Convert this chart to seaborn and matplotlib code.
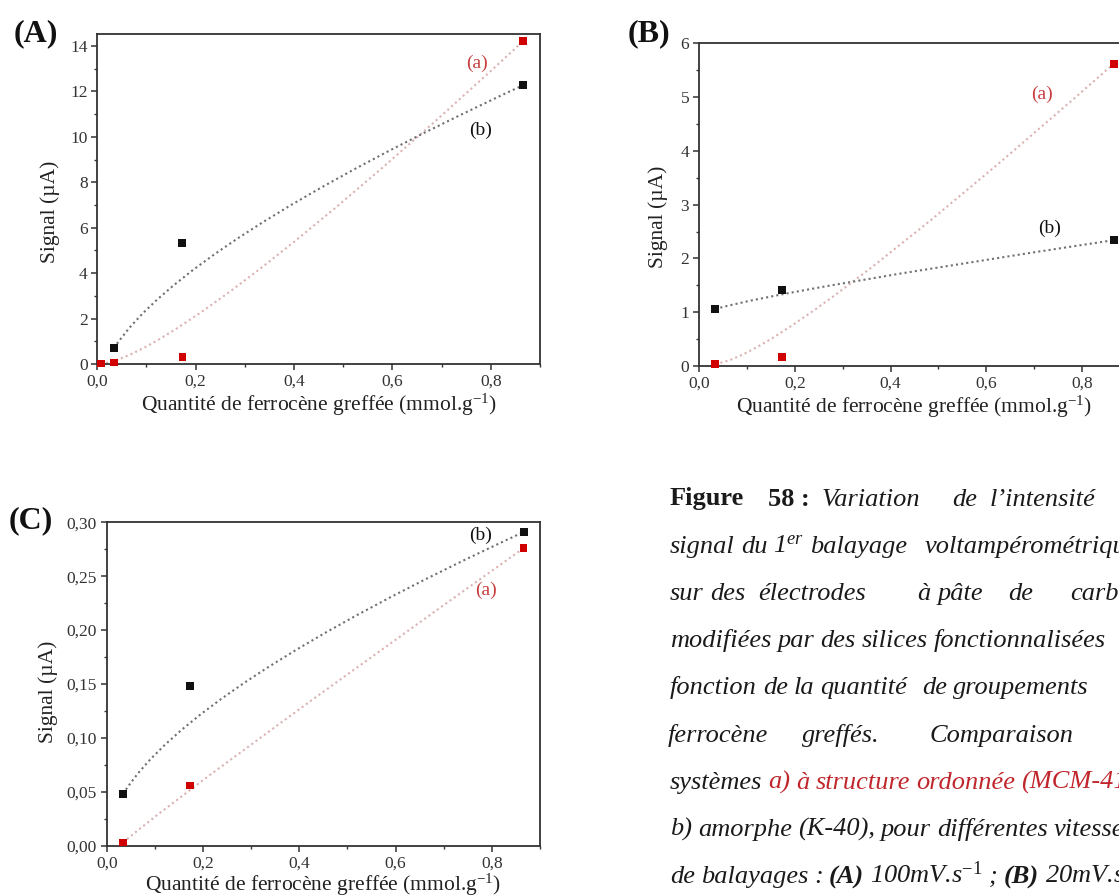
import numpy as np
import seaborn as sns
import matplotlib.pyplot as plt
from matplotlib.path import Path
from matplotlib.patches import PathPatch
from matplotlib.ticker import MultipleLocator, FuncFormatter

# grafted ferrocene (mmol/g) and signal (uA)
x_common = [0.034, 0.173, 0.866]
x_a_A = [0.007, 0.034, 0.173, 0.866]
y_a_A = [0.03, 0.06, 0.32, 14.22]
y_b_A = [0.70, 5.31, 12.28]

y_a_B = [0.04, 0.17, 5.62]
y_b_B = [1.06, 1.41, 2.34]

y_a_C = [0.003, 0.056, 0.276]
y_b_C = [0.048, 0.148, 0.291]

RED = "#d10000"
BLACK = "#111111"
W, H = 1119, 896

sns.set_style("ticks")
plt.rcParams["font.family"] = ["Liberation Serif", "DejaVu Serif"]
plt.rcParams["mathtext.fontset"] = "custom"
plt.rcParams["mathtext.rm"] = "Liberation Serif"
plt.rcParams["mathtext.it"] = "Liberation Serif:italic"
plt.rcParams["mathtext.bf"] = "Liberation Serif:bold"

fig = plt.figure(figsize=(W / 100, H / 100), dpi=100)


def px_box(l, t, r, b):
    return [l / W, 1 - b / H, (r - l) / W, (b - t) / H]


def bspline(ax, xs, ys, color):
    # Origin "B-spline" connection: data points act as bezier control points
    verts = np.column_stack([xs, ys])
    step = Path.CURVE3 if len(xs) == 3 else Path.CURVE4
    codes = [Path.MOVETO] + [step] * (len(xs) - 1)
    ax.add_patch(PathPatch(Path(verts, codes), fill=False, edgecolor=color,
                           lw=1.5, ls=(0, (1, 1.5)), zorder=2))


def panel(box, ylim, ymaj, ymin, yfmt, xa, ya, xb, yb, lab_a, lab_b, ylab_pos, xlab_off):
    ax = fig.add_axes(box)
    bspline(ax, xa, ya, "#dbb2b2")
    bspline(ax, xb, yb, "#707070")
    sns.scatterplot(x=xa, y=ya, marker="s", s=30, color=RED, edgecolor="none",
                    ax=ax, clip_on=False, zorder=3)
    sns.scatterplot(x=xb, y=yb, marker="s", s=32, color=BLACK, edgecolor="none",
                    ax=ax, clip_on=False, zorder=3)
    ax.set_xlim(0, 0.9)
    ax.set_ylim(*ylim)
    ax.xaxis.set_major_locator(MultipleLocator(0.2))
    ax.xaxis.set_minor_locator(MultipleLocator(0.1))
    ax.yaxis.set_major_locator(MultipleLocator(ymaj))
    ax.yaxis.set_minor_locator(MultipleLocator(ymin))
    ax.xaxis.set_major_formatter(FuncFormatter(lambda v, p: f"{v:.1f}".replace(".", ",")))
    ax.yaxis.set_major_formatter(FuncFormatter(lambda v, p: yfmt.format(v).replace(".", ",")))
    ax.tick_params(which="major", direction="out", length=4, width=1.1,
                   labelsize=12.5, colors="#333333", pad=3)
    ax.tick_params(which="minor", direction="out", length=2.5, width=1, colors="#333333")
    for sp in ax.spines.values():
        sp.set_linewidth(1.3)
        sp.set_color("#333333")
    ax.set_xlabel("Quantité de ferrocène greffée (mmol.g$^{-1}$)", fontsize=15.5, color="#222222")
    ax.set_ylabel("Signal (µA)", fontsize=15.5, color="#222222")
    ax.xaxis.label.set_va("center")
    ax.yaxis.label.set_va("center")
    ax.xaxis.set_label_coords(0.5, xlab_off)
    ax.yaxis.set_label_coords(*ylab_pos)
    ax.text(*lab_a, "(a)", color="#c84040", fontsize=14, ha="center", va="center")
    ax.text(*lab_b, "(b)", color=BLACK, fontsize=14, ha="center", va="center")
    return ax


panel(px_box(97.3, 34, 540, 364), (0, 14.53), 2, 1, "{:.0f}",
      x_a_A, y_a_A, x_common, y_b_A, (0.772, 13.24), (0.780, 10.27), (-0.106, 0.46), -0.124)
panel(px_box(699, 43.3, 1130, 366), (0, 6), 1, 0.5, "{:.0f}",
      x_common, y_a_B, x_common, y_b_B, (0.717, 5.06), (0.733, 2.56), (-0.095, 0.463), -0.126)
panel(px_box(106.7, 522.3, 540, 845.7), (0, 0.30), 0.05, 0.025, "{:.2f}",
      x_common, y_a_C, x_common, y_b_C, (0.788, 0.237), (0.777, 0.288), (-0.135, 0.476), -0.1215)

for px, base, s in [(14, 41, "(A)"), (628, 41.7, "(B)"), (9, 528, "(C)")]:
    fig.text(px / W, 1 - base / H, s, fontsize=23, weight="bold", va="baseline", color="#111111")

# justified caption: words go near where they sit in the scan, never overlapping
rows = [505.5, 552.7, 599.9, 647.1, 694.3, 741.5, 788.7, 835.9, 883.1]
CAP_RED = "#c0272d"
IT = dict(style="italic")
BF = dict(style="normal", weight="bold")
RD = dict(style="italic", color=CAP_RED)
BI = dict(style="italic", weight="bold")

caption = [
    [(670, "Figure", BF), (768, "58 :", BF), (822, "Variation", IT), (952, "de", IT),
     (990, "l’intensité", IT)],
    [(670, "signal", IT), (737, "du", IT), (762, "1$^{er}$", IT), (790, "balayage", IT),
     (925, "voltampérométrique", IT)],
    [(670, "sur", IT), (705, "des", IT), (758, "électrodes", IT), (917, "à", IT),
     (938, "pâte", IT), (1008, "de", IT), (1070, "carbone", IT)],
    [(670, "modifiées", IT), (0, "par", IT), (0, "des", IT), (0, "silices", IT),
     (0, "fonctionnalisées", IT)],
    [(670, "fonction", IT), (750, "de", IT), (782, "la", IT), (813, "quantité", IT),
     (922, "de", IT), (953, "groupements", IT)],
    [(668, "ferrocène", IT), (802, "greffés.", IT), (930, "Comparaison", IT)],
    [(670, "systèmes", IT), (0, "a)", RD), (0, "à", RD), (0, "structure", RD),
     (0, "ordonnée", RD), (0, "(MCM-41)", RD)],
    [(670, "b)", IT), (0, "amorphe", IT), (0, "(K-40),", IT), (0, "pour", IT),
     (0, "différentes", IT), (0, "vitesses", IT)],
    [(670, "de", IT), (0, "balayages", IT), (0, ":", IT), (0, "(A)", BI),
     (0, "100mV.s$^{-1}$", IT), (0, ";", IT), (0, "(B)", BI), (0, "20mV.s$^{-1}$", IT)],
]

renderer = fig.canvas.get_renderer()
for base, words in zip(rows, caption):
    end = 0
    for x, w, kw in words:
        kw = dict(kw)
        color = kw.pop("color", "#1a1a1a")
        xpos = max(x, end + 6)
        t = fig.text(xpos / W, 1 - base / H, w, fontsize=19, color=color,
                     va="baseline", ha="left", **kw)
        end = t.get_window_extent(renderer).x1

fig.savefig("out.png", dpi=100)
